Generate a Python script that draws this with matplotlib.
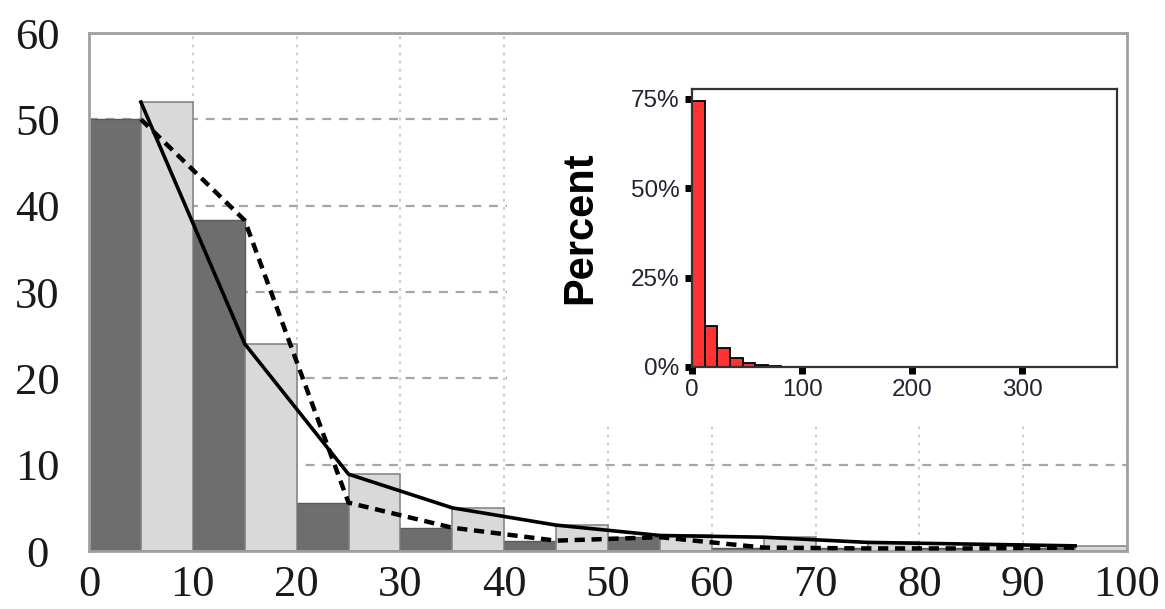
import matplotlib
matplotlib.use("Agg")
import matplotlib.pyplot as plt
from matplotlib.patches import Rectangle

# main chart: two interleaved series, 5-wide bins in each 10-wide group
group_starts = [0, 10, 20, 30, 40, 50, 60, 70, 80, 90]
dark_vals = [50.0, 38.3, 5.6, 2.7, 1.2, 1.6, 0.4, 0.3, 0.3, 0.4]
light_vals = [52.0, 24.0, 8.9, 5.0, 3.0, 1.8, 1.6, 1.0, 0.8, 0.6]
x_ticks = [0, 10, 20, 30, 40, 50, 60, 70, 80, 90, 100]
y_ticks = [0, 10, 20, 30, 40, 50, 60]

# inset histogram (percent of cases)
inset_edges = [0, 11.5, 23, 34.5, 46, 57.5, 69, 80.5]
inset_pct = [0.745, 0.115, 0.053, 0.024, 0.010, 0.005, 0.004]
inset_xticks = [0, 100, 200, 300]
inset_yticks = [0, 0.25, 0.5, 0.75]
inset_ylabels = ["0%", "25%", "50%", "75%"]


def main():
    fig = plt.figure(figsize=(11.65, 6.09), dpi=100)
    ax = fig.add_axes([0.0764, 0.0952, 0.891, 0.8506])

    bw = 5
    dark_x = list(group_starts)
    light_x = [g + bw for g in group_starts]
    line_x = [g + bw for g in group_starts]

    ax.bar(dark_x, dark_vals, width=bw, align="edge", color="#6e6e6e",
           edgecolor="#5a5a5a", linewidth=1, zorder=2)
    ax.bar(light_x, light_vals, width=bw, align="edge", color="#d9d9d9",
           edgecolor="#7f7f7f", linewidth=1.1, zorder=2)

    ax.plot(line_x, light_vals, color="black", lw=2.6, zorder=4)
    ax.plot(line_x, dark_vals, color="black", lw=3.2, dashes=(2.3, 1.5), zorder=4)

    ax.set_xlim(0, 100)
    ax.set_ylim(0, 60)
    ax.set_xticks(x_ticks)
    ax.set_yticks(y_ticks)

    ax.set_axisbelow(True)
    ax.grid(axis="x", color="#c8c8c8", lw=1.3, linestyle=(0, (1.5, 3)))
    ax.grid(axis="y", color="#a6a6a6", lw=1.6, linestyle=(0, (4, 3.5)))

    # white area where the inset was pasted
    ax.add_patch(Rectangle((40.3, 15), 59.7, 45, facecolor="white",
                           edgecolor="none", zorder=1))

    for s in ax.spines.values():
        s.set_color("#a0a0a0")
        s.set_linewidth(2)

    serif = ["Liberation Serif", "DejaVu Serif"]
    ax.tick_params(length=0, labelsize=32, pad=10)
    ax.tick_params(axis="y", pad=37)
    for lab in ax.get_xticklabels() + ax.get_yticklabels():
        lab.set_family(serif)
        lab.set_color("#1a1a1a")
    for lab in ax.get_yticklabels():
        lab.set_horizontalalignment("center")

    # inset
    ins = fig.add_axes([0.594, 0.3974, 0.3648, 0.4565])
    widths = [inset_edges[i + 1] - inset_edges[i] for i in range(len(inset_pct))]
    ins.bar(inset_edges[:-1], inset_pct, width=widths, align="edge",
            color="#ff3333", edgecolor="black", linewidth=1.3, zorder=2)
    ins.set_xlim(0, 386)
    ins.set_ylim(0, 0.778)
    ins.set_xticks(inset_xticks)
    ins.set_yticks(inset_yticks)
    ins.set_yticklabels(inset_ylabels)
    for s in ins.spines.values():
        s.set_color("#333333")
        s.set_linewidth(1.6)
    ins.tick_params(length=5, width=5, direction="out", color="black",
                    labelsize=17.5, labelcolor="#222233", pad=4)
    for lab in ins.get_xticklabels() + ins.get_yticklabels():
        lab.set_family(["Liberation Sans", "DejaVu Sans"])
    ins.set_ylabel("Percent", fontsize=30, fontweight="bold",
                   family=["Liberation Sans", "DejaVu Sans"], labelpad=22)

    fig.savefig("out.png", dpi=100)


if __name__ == "__main__":
    main()
